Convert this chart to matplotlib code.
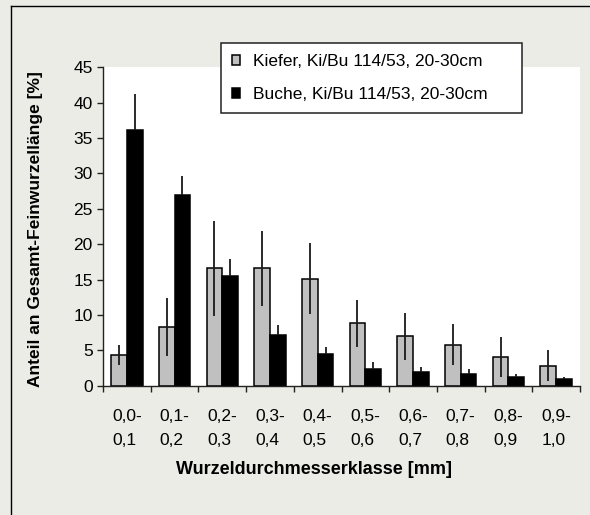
import numpy as np
import matplotlib
matplotlib.use("Agg")
import matplotlib.pyplot as plt
from matplotlib.lines import Line2D

plt.rcParams['font.family'] = ['Liberation Sans', 'DejaVu Sans']

# Wurzeldurchmesserklassen [mm]
klassen = ["0,0-\n0,1", "0,1-\n0,2", "0,2-\n0,3", "0,3-\n0,4", "0,4-\n0,5",
           "0,5-\n0,6", "0,6-\n0,7", "0,7-\n0,8", "0,8-\n0,9", "0,9-\n1,0"]

# Anteil an Gesamt-Feinwurzellaenge [%] und Fehler
kiefer = [4.3, 8.3, 16.6, 16.6, 15.1, 8.8, 7.0, 5.8, 4.1, 2.8]
kiefer_err = [1.4, 4.1, 6.7, 5.3, 5.0, 3.3, 3.3, 2.9, 2.8, 2.2]
buche = [36.2, 26.9, 15.5, 7.2, 4.5, 2.4, 1.9, 1.7, 1.2, 0.9]
buche_err = [5.0, 2.7, 2.4, 1.4, 1.0, 0.9, 0.7, 0.6, 0.4, 0.4]

label_kiefer = "Kiefer, Ki/Bu 114/53, 20-30cm"
label_buche = "Buche, Ki/Bu 114/53, 20-30cm"

W, H = 590, 515
fig = plt.figure(figsize=(W / 100, H / 100), dpi=100)
fig.patch.set_facecolor('#eaece5')

# Rahmen (links und oben)
fig.add_artist(Line2D([11 / W, 11 / W], [0, 1 - 6 / H], color='black', lw=1.0))
fig.add_artist(Line2D([11 / W, 1], [1 - 6 / H, 1 - 6 / H], color='black', lw=1.0))

ax = fig.add_axes([103 / W, 1 - 385.7 / H, (580 - 103) / W, (385.7 - 67.3) / H])
ax.set_facecolor('white')

x = np.arange(len(klassen)) + 0.5
bw = 0.33
err_kw = dict(ecolor='#1a1a1a', elinewidth=1.3, capsize=0)
b1 = ax.bar(x - bw / 2, kiefer, bw, yerr=kiefer_err, color='#c0c0c0',
            edgecolor='black', linewidth=1.1, error_kw=err_kw, label=label_kiefer)
# untere Fehlerhaelfte liegt im schwarzen Balken, nur oben zeichnen
b2 = ax.bar(x + bw / 2, buche, bw, yerr=[np.zeros(len(buche)), buche_err], color='black',
            edgecolor='black', linewidth=1.1, error_kw=err_kw, label=label_buche)

ax.set_xlim(0, len(klassen))
ax.set_ylim(0, 45)
ax.set_yticks(np.arange(0, 46, 5))

ax.set_xticks(x)
ax.set_xticklabels(klassen, fontsize=12.5, linespacing=1.75, multialignment='left')
ax.set_xticks(np.arange(0, len(klassen) + 1), minor=True)
ax.tick_params(axis='x', which='major', length=0, pad=17)
ax.tick_params(axis='x', which='minor', length=4, width=1.0, color='#222222')
ax.tick_params(axis='y', length=4.3, width=1.0, color='#222222', pad=3, labelsize=12.5)

for s in ['top', 'right']:
    ax.spines[s].set_visible(False)
for s in ['left', 'bottom']:
    ax.spines[s].set_linewidth(1.0)
    ax.spines[s].set_color('#222222')

fig.text(35.5 / W, 1 - 229 / H, "Anteil an Gesamt-Feinwurzellänge [%]",
         rotation=90, ha='center', va='center', fontsize=12.5, fontweight='bold')
fig.text(314 / W, 1 - 470 / H, "Wurzeldurchmesserklasse [mm]",
         ha='center', va='center', fontsize=13, fontweight='bold')

leg = fig.legend(handles=[b1, b2], loc='upper left',
                 bbox_to_anchor=(221 / W, 1 - 112.7 / H, (522 - 221) / W, (112.7 - 43.3) / H),
                 mode='expand', fontsize=12.5, frameon=True, fancybox=False,
                 edgecolor='#222222', facecolor='white', framealpha=1,
                 handlelength=0.5, handleheight=0.5, handletextpad=0.7,
                 borderpad=0.62, labelspacing=1.05, borderaxespad=0)
leg.get_frame().set_linewidth(1.1)

fig.savefig("out.png", dpi=100, facecolor=fig.get_facecolor())
